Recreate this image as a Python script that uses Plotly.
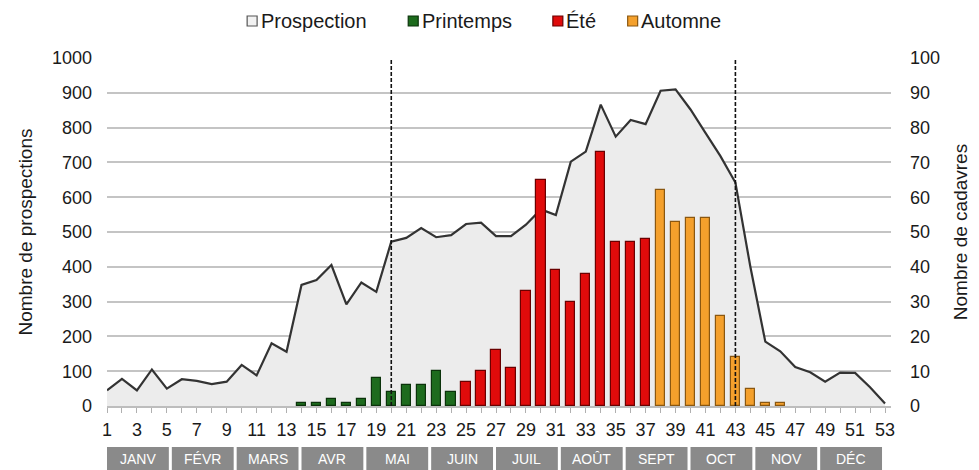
import plotly.graph_objects as go
from plotly.subplots import make_subplots

# Weeks of the year
weeks = list(range(1, 54))

# Weekly number of prospections (left axis)
prospections = [45, 78, 45, 105, 50, 77, 72, 63, 70, 118,
                88, 180, 156, 348, 362, 405, 292, 355, 328, 472,
                483, 511, 485, 491, 523, 527, 488, 488, 521, 565,
                549, 702, 731, 866, 774, 822, 810, 906, 910, 852,
                785, 718, 642, 400, 185, 157, 112, 97, 70, 96,
                95, 54, 7]

# Weekly number of carcasses by season (right axis)
printemps_weeks = [14, 15, 16, 17, 18, 19, 20, 21, 22, 23, 24]
printemps_vals = [1, 1, 2, 1, 2, 8, 4, 6, 6, 10, 4]

ete_weeks = [25, 26, 27, 28, 29, 30, 31, 32, 33, 34, 35, 36, 37]
ete_vals = [7, 10, 16, 11, 33, 65, 39, 30, 38, 73, 47, 47, 48]

automne_weeks = [38, 39, 40, 41, 42, 43, 44, 45, 46]
automne_vals = [62, 53, 54, 54, 26, 14, 5, 1, 1]

# Season boundaries (dashed lines)
boundary_weeks = [20, 43]

months = ["JANV", "FÉVR", "MARS", "AVR", "MAI", "JUIN",
          "JUIL", "AOÛT", "SEPT", "OCT", "NOV", "DÉC"]

series_names = ["Prospection", "Printemps", "Été", "Automne"]
fills = ["#ececec", "#1d6b1d", "#e00b0b", "#f4a02c"]
edges = ["#4d4d4d", "#0b330b", "#6a0000", "#8a5710"]

FONT = "Liberation Sans, Arial, sans-serif"
W, H = 979, 470
L, R, T, B = 107, 893, 58, 406


def px_x(px):
    return (px - L) / (R - L)


def px_y(py):
    return (B - py) / (B - T)


fig = make_subplots(specs=[[{"secondary_y": True}]])

fig.add_trace(go.Scatter(
    x=weeks, y=prospections, mode="lines", fill="tozeroy",
    fillcolor=fills[0], line=dict(color="#333333", width=2.2),
    name=series_names[0], showlegend=False, hoverinfo="x+y"),
    secondary_y=False)

for name, xs, ys, fc, ec in [
        (series_names[1], printemps_weeks, printemps_vals, fills[1], edges[1]),
        (series_names[2], ete_weeks, ete_vals, fills[2], edges[2]),
        (series_names[3], automne_weeks, automne_vals, fills[3], edges[3])]:
    fig.add_trace(go.Bar(
        x=xs, y=ys, name=name, width=0.62,
        marker=dict(color=fc, line=dict(color=ec, width=1.2)),
        showlegend=False), secondary_y=True)

shapes = []
annotations = []

# Season boundary lines
for wk in boundary_weeks:
    shapes.append(dict(type="line", xref="x", yref="y", x0=wk, x1=wk,
                       y0=0, y1=1000, layer="above",
                       line=dict(color="#111111", width=1.6, dash="4px,2px")))

# Month bands under the week axis
pitch = 52 / 12
for i, m in enumerate(months):
    x0 = 1 + i * pitch
    x1 = x0 + pitch - 0.2
    shapes.append(dict(type="rect", xref="x", yref="paper",
                       x0=x0, x1=x1, y0=px_y(470), y1=px_y(447),
                       fillcolor="#8a8a8a", line=dict(width=0), layer="above"))
    annotations.append(dict(x=(x0 + x1) / 2, y=px_y(458.5), xref="x",
                            yref="paper", text=m, showarrow=False,
                            font=dict(family=FONT, size=14, color="white"),
                            xanchor="center", yanchor="middle"))

# Legend row
legend_pos = [252.5, 414, 559, 634]
for name, cx, fc, ec in zip(series_names, legend_pos, fills, edges):
    fc_l = "#f2f2f2" if name == "Prospection" else fc
    ec_l = "#555555" if name == "Prospection" else ec
    shapes.append(dict(type="rect", xref="paper", yref="paper",
                       x0=px_x(cx - 5), x1=px_x(cx + 5),
                       y0=px_y(26), y1=px_y(16),
                       fillcolor=fc_l, line=dict(color=ec_l, width=1.2)))
    annotations.append(dict(x=px_x(cx + 6.5), y=px_y(21), xref="paper",
                            yref="paper", text=name, showarrow=False,
                            xanchor="left", yanchor="middle",
                            font=dict(family=FONT, size=20, color="#1a1a1a")))

fig.update_layout(
    width=W, height=H,
    margin=dict(l=L, r=W - R, t=T, b=H - B, pad=0),
    paper_bgcolor="white", plot_bgcolor="white",
    font=dict(family=FONT, size=18, color="#1a1a1a"),
    bargap=0, barmode="overlay",
    shapes=shapes, annotations=annotations,
    showlegend=False,
)

fig.update_xaxes(
    domain=[0, 1],
    range=[1, 53.4], tickmode="linear", tick0=1, dtick=2,
    ticks="outside", ticklen=5, tickcolor="#b0b0b0",
    minor=dict(dtick=1, tick0=1, ticks="outside", ticklen=5,
               tickcolor="#b0b0b0"),
    showgrid=False, showline=True, linecolor="#bdbdbd", linewidth=1.5,
    tickfont=dict(size=18), ticklabelstandoff=2,
)

fig.update_yaxes(
    range=[0, 1000], dtick=100, showgrid=True, gridcolor="#c4c4c4",
    gridwidth=1.6, zeroline=False, ticks="", tickfont=dict(size=18),
    ticklabelstandoff=14,
    title=dict(text="Nombre de prospections", font=dict(size=19),
               standoff=14),
    secondary_y=False,
)

fig.update_yaxes(
    range=[0, 100], dtick=10, showgrid=False, zeroline=False, ticks="",
    tickfont=dict(size=18), ticklabelstandoff=18,
    title=dict(text="Nombre de cadavres", font=dict(size=19), standoff=14),
    secondary_y=True,
)

fig.write_html("out.html")
